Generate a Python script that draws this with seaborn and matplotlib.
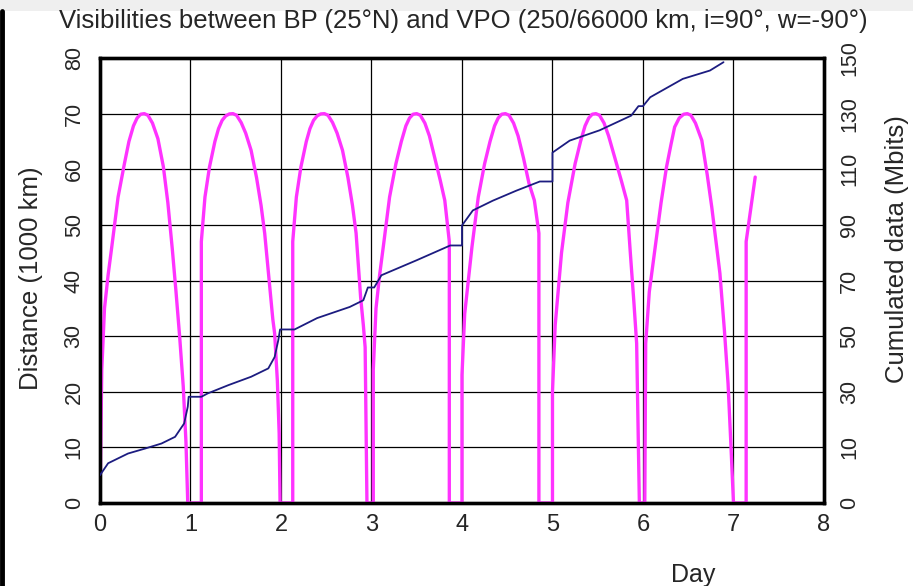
import numpy as np
import pandas as pd
import matplotlib
matplotlib.use("Agg")
import matplotlib.pyplot as plt
import seaborn as sns
from matplotlib.lines import Line2D
from matplotlib.patches import Rectangle

# distance to the satellite (1000 km), one list per visibility pass; 0 = not visible
pass_days = [
    [0.00, 0.02, 0.05, 0.09, 0.13, 0.20, 0.27, 0.32, 0.37, 0.41, 0.45, 0.49, 0.53, 0.58, 0.64, 0.70, 0.75, 0.80,
     0.84, 0.88, 0.92, 0.95, 0.97],
    [1.12, 1.12, 1.16, 1.21, 1.27, 1.31, 1.35, 1.39, 1.43, 1.47, 1.51, 1.56, 1.61, 1.67, 1.73, 1.78, 1.82, 1.87,
     1.91, 1.93, 1.96, 1.98, 1.99],
    [2.13, 2.13, 2.17, 2.22, 2.28, 2.32, 2.36, 2.40, 2.44, 2.48, 2.52, 2.57, 2.62, 2.68, 2.74, 2.79, 2.83, 2.88,
     2.91, 2.93, 2.95],
    [3.02, 3.02, 3.05, 3.09, 3.13, 3.20, 3.27, 3.33, 3.38, 3.42, 3.46, 3.50, 3.54, 3.59, 3.64, 3.70, 3.76, 3.81,
     3.86, 3.86],
    [4.00, 4.00, 4.03, 4.07, 4.11, 4.18, 4.25, 4.31, 4.36, 4.40, 4.44, 4.48, 4.52, 4.57, 4.62, 4.68, 4.74, 4.80,
     4.85, 4.85],
    [5.00, 5.00, 5.03, 5.10, 5.17, 5.25, 5.31, 5.36, 5.40, 5.44, 5.48, 5.52, 5.57, 5.62, 5.69, 5.76, 5.82, 5.86,
     5.90, 5.93, 5.96],
    [6.02, 6.03, 6.07, 6.13, 6.20, 6.26, 6.31, 6.35, 6.40, 6.45, 6.49, 6.53, 6.58, 6.65, 6.71, 6.76, 6.85, 6.90,
     6.94, 6.97, 7.00],
    [7.14, 7.14, 7.24],
]
pass_dist = [
    [0, 24, 35, 41, 46, 55, 61, 65, 67.8, 69.2, 69.9, 70, 69.7, 68.3, 65.5, 60.5, 54, 45.5, 38, 30, 21, 11, 0],
    [0, 47, 55, 60.4, 65, 67.3, 68.8, 69.6, 69.95, 70, 69.7, 68.4, 66.5, 63.4, 58.5, 53.5, 48.5, 40, 33, 30.5,
     22, 12.5, 0],
    [0, 47, 55, 60.4, 65, 67.3, 68.8, 69.6, 69.95, 70, 69.7, 68.4, 66.5, 63.4, 58.5, 53.5, 48.5, 37, 32, 28, 0],
    [0, 24, 35, 41, 46, 55, 61, 65, 67.8, 69.2, 69.9, 70, 69.7, 68.3, 66, 62, 58, 54.4, 47, 0],
    [0, 23, 34, 40, 46, 55, 61, 65, 67.8, 69.2, 69.9, 70, 69.7, 68.3, 66, 62, 57.5, 54.4, 48.5, 0],
    [0, 20, 32, 45, 54, 61, 65, 67.8, 69.2, 69.9, 70, 69.7, 68.3, 66, 62, 58, 54.4, 45, 36, 28.7, 0],
    [0, 28.7, 38, 45.4, 54, 60.4, 64.5, 67.6, 69.2, 69.9, 70, 69.7, 68.3, 65.2, 59, 53.2, 41.3, 31, 21.5, 11, 0],
    [0, 47, 58.6],
]

# cumulated data downloaded (Mbits)
cum_days = [0.00, 0.09, 0.31, 0.50, 0.68, 0.83, 0.93, 0.97, 0.98, 1.12, 1.19, 1.42, 1.67, 1.86, 1.93, 1.97, 1.99,
            2.15, 2.40, 2.76, 2.91, 2.96, 3.03, 3.11, 3.50, 3.87, 4.00, 4.00, 4.12, 4.34, 4.60, 4.86, 5.00, 5.00,
            5.19, 5.52, 5.87, 5.95, 6.00, 6.08, 6.44, 6.74, 6.89]
cum_mbits = [0, 4.3, 7.8, 9.6, 11.4, 13.8, 18.6, 24.6, 28.2, 28.2, 29.4, 32.4, 35.4, 38.4, 42.5, 48.5, 52.4,
             52.4, 56.5, 60.5, 62.9, 67.5, 67.5, 71.9, 77.3, 82.6, 82.6, 89.8, 95.2, 98.7, 102.3, 105.6, 105.6, 116,
             120.3, 124, 129.3, 132.7, 132.7, 135.9, 142.5, 145.5, 148.5]

dist_ticks = [0, 10, 20, 30, 40, 50, 60, 70, 80]
cum_ticks = [-10, 10, 30, 50, 70, 90, 110, 130, 150]
cum_labels = ["0", "10", "30", "50", "70", "90", "110", "130", "150"]

# join the passes into one trace, staying on 0 between passes
days, dist = [], []
for d, v in zip(pass_days, pass_dist):
    days += d
    dist += v
dist_df = pd.DataFrame({"Day": days, "Distance": dist})
cum_df = pd.DataFrame({"Day": cum_days, "Mbits": cum_mbits})

sns.set_style("white")
plt.rcParams["font.family"] = ["Liberation Sans", "DejaVu Sans"]

fig = plt.figure(figsize=(9.13, 5.86), dpi=100)
ax = fig.add_axes([0.1095, 0.1416, 0.793, 0.7594])

# slide decorations around the chart
fig.add_artist(Rectangle((0, 0.982), 1, 0.018, transform=fig.transFigure, color="#efefef", lw=0))
fig.add_artist(Line2D([0.002, 0.002], [0, 0.982], transform=fig.transFigure, color="black", lw=3.5))

sns.lineplot(data=dist_df, x="Day", y="Distance", sort=False, estimator=None,
             color="#ff33ff", lw=2.4, ax=ax, zorder=3)

ax.set_xlim(0, 8)
ax.set_ylim(0, 80)
ax.set_xticks(range(9))
ax.set_yticks(dist_ticks)
ax.grid(True, color="black", lw=0.9)
ax.set_axisbelow(True)
ax.tick_params(axis="x", length=0, pad=8, labelsize=17)
ax.tick_params(axis="y", length=0, pad=11, labelsize=15.5, labelrotation=90)
for lab in ax.get_yticklabels():
    lab.set_va("center")
ax.set_xlabel("Day", fontsize=18)
ax.xaxis.set_label_coords(0.82, -0.135)
ax.set_ylabel("Distance (1000 km)", fontsize=18.5)
ax.yaxis.set_label_coords(-0.079, 0.505)

ax2 = ax.twinx()
sns.lineplot(data=cum_df, x="Day", y="Mbits", sort=False, estimator=None,
             color="#1c1c80", lw=1.3, ax=ax2, zorder=4)
ax2.set_ylim(-10, 150)
ax2.set_yticks(cum_ticks)
ax2.set_yticklabels(cum_labels)
ax2.tick_params(axis="y", length=0, pad=11, labelsize=15.5, labelrotation=90)
for lab in ax2.get_yticklabels():
    lab.set_va("center")
ax2.set_ylabel("Cumulated data (Mbits)", fontsize=18.5)
ax2.yaxis.set_label_coords(1.084, 0.57)
ax2.grid(False)

for a in (ax, ax2):
    for s in a.spines.values():
        s.set_visible(True)
        s.set_color("black")
        s.set_linewidth(2.4)

fig.suptitle("Visibilities between BP (25°N) and VPO (250/66000 km, i=90°, w=-90°)",
             fontsize=18.5, x=0.508, y=0.965, va="center")

fig.savefig("out.png", dpi=100)
